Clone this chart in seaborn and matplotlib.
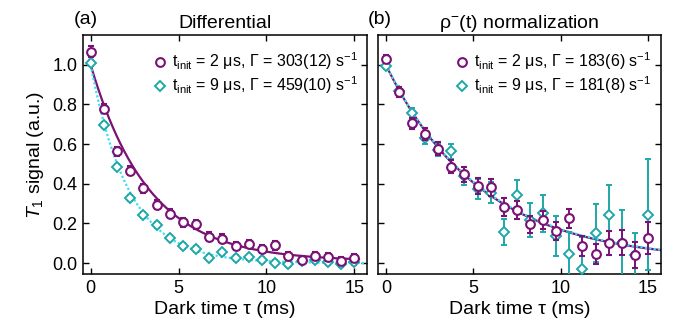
import numpy as np
import pandas as pd
import seaborn as sns
import matplotlib.pyplot as plt
from matplotlib.lines import Line2D

# data
tau = np.arange(21) * 0.75  # dark time (ms)

# (a) differential
a_t2 = [1.067, 0.778, 0.563, 0.467, 0.378, 0.294, 0.250, 0.205, 0.195, 0.134, 0.123,
        0.087, 0.096, 0.071, 0.089, 0.034, 0.017, 0.034, 0.029, 0.013, 0.025]
a_t2_err = [0.028, 0.022, 0.022, 0.022, 0.022, 0.022, 0.022, 0.022, 0.022, 0.022, 0.022,
            0.022, 0.022, 0.022, 0.022, 0.02, 0.02, 0.02, 0.02, 0.02, 0.02]
a_t9 = [1.008, 0.697, 0.487, 0.328, 0.244, 0.193, 0.129, 0.087, 0.072, 0.025, 0.054,
        0.025, 0.029, 0.017, 0.003, -0.005, 0.012, 0.014, 0.005, -0.005, 0.004]
a_t9_err = [0.014] * 21

# (b) rho^-(t) normalization
b_t2 = [1.029, 0.861, 0.706, 0.650, 0.576, 0.487, 0.449, 0.387, 0.383, 0.284, 0.268,
        0.195, 0.217, 0.163, 0.226, 0.086, 0.045, 0.103, 0.103, 0.040, 0.128]
b_t2_err = [0.022, 0.025, 0.028, 0.03, 0.033, 0.035, 0.038, 0.04, 0.042, 0.046, 0.045,
            0.044, 0.046, 0.046, 0.049, 0.049, 0.05, 0.06, 0.063, 0.067, 0.08]
b_t9 = [0.995, 0.870, 0.756, 0.630, 0.570, 0.563, 0.440, 0.373, 0.356, 0.158, 0.344,
        0.217, 0.251, 0.136, 0.045, -0.03, 0.153, 0.243, 0.10, 0.04, 0.243]
b_t9_err = [0.015, 0.02, 0.025, 0.03, 0.03, 0.04, 0.045, 0.05, 0.055, 0.067, 0.076,
            0.084, 0.093, 0.10, 0.113, 0.16, 0.147, 0.152, 0.17, 0.11, 0.28]

# fit parameters: rate (1/s), amplitude, offset
gamma_a = [303, 459]
gamma_b = [183, 181]
fit_amp_a = [0.99, 1.0]
fit_off_a = [0.01, 0.0]
fit_amp_b = [0.99, 0.99]
fit_off_b = [0.01, 0.01]

labels_a = [r'$\mathrm{t_{init}}$ = 2 μs, Γ = 303(12) s$^{\mathrm{-1}}$',
            r'$\mathrm{t_{init}}$ = 9 μs, Γ = 459(10) s$^{\mathrm{-1}}$']
labels_b = [r'$\mathrm{t_{init}}$ = 2 μs, Γ = 183(6) s$^{\mathrm{-1}}$',
            r'$\mathrm{t_{init}}$ = 9 μs, Γ = 181(8) s$^{\mathrm{-1}}$']

purple = '#7a1276'
teal = '#1fa8a8'
cyan_line = '#3ce0f0'

sns.set_style('ticks')
plt.rcParams['font.family'] = ['Liberation Sans', 'DejaVu Sans']
plt.rcParams['mathtext.fontset'] = 'custom'
plt.rcParams['mathtext.rm'] = 'Liberation Sans'
plt.rcParams['mathtext.it'] = 'Liberation Sans:italic'
for k in ['text.color', 'axes.labelcolor', 'xtick.color', 'ytick.color', 'axes.edgecolor']:
    plt.rcParams[k] = 'black'

fig = plt.figure(figsize=(6.78, 3.22), dpi=100)
ax1 = fig.add_axes([0.122, 0.149, 0.420, 0.742])
ax2 = fig.add_axes([0.5575, 0.149, 0.4175, 0.742])

tfit = np.linspace(0, 15.75, 300)


def panel(ax, y2, e2, y9, e9, gam, amp, off, labels, xend2):
    # fit curves
    fit2 = pd.DataFrame({'t': tfit[tfit <= xend2],
                         'y': amp[0] * np.exp(-gam[0] * tfit[tfit <= xend2] / 1000) + off[0]})
    fit9 = pd.DataFrame({'t': tfit, 'y': amp[1] * np.exp(-gam[1] * tfit / 1000) + off[1]})
    sns.lineplot(data=fit2, x='t', y='y', ax=ax, color=purple, lw=1.6, zorder=2)
    sns.lineplot(data=fit9, x='t', y='y', ax=ax, color=cyan_line, lw=1.6,
                 linestyle=(0, (1, 1)), zorder=2.5)
    # data points
    ax.errorbar(tau, y9, yerr=e9, fmt='D', ms=5, mfc='white', mec=teal, mew=1.4,
                ecolor=teal, elinewidth=1.4, capsize=2.5, capthick=1.4, zorder=3)
    ax.errorbar(tau, y2, yerr=e2, fmt='o', ms=6.3, mfc='white', mec=purple, mew=1.5,
                ecolor=purple, elinewidth=1.4, capsize=2.5, capthick=1.4, zorder=4)
    handles = [Line2D([], [], marker='o', ls='none', ms=6.3, mfc='white', mec=purple, mew=1.5),
               Line2D([], [], marker='D', ls='none', ms=5, mfc='white', mec=teal, mew=1.4)]
    ax.legend(handles, labels, loc='upper right', frameon=False, fontsize=11.5,
              handlelength=0.6, handletextpad=0.45, labelspacing=0.15,
              borderaxespad=0.2, bbox_to_anchor=(1.0, 0.975))
    ax.set_xlim(-0.45, 15.75)
    ax.set_ylim(-0.055, 1.15)
    ax.set_xticks([0, 5, 10, 15])
    ax.set_yticks([0.0, 0.2, 0.4, 0.6, 0.8, 1.0])
    ax.tick_params(direction='in', top=True, right=True, length=4, width=1,
                   labelsize=13, pad=4)
    for s in ax.spines.values():
        s.set_linewidth(1.1)
    ax.set_xlabel('Dark time τ (ms)', fontsize=14, labelpad=3)


panel(ax1, a_t2, a_t2_err, a_t9, a_t9_err, gamma_a, fit_amp_a, fit_off_a, labels_a, 15.3)
panel(ax2, b_t2, b_t2_err, b_t9, b_t9_err, gamma_b, fit_amp_b, fit_off_b, labels_b, 15.75)

ax1.set_yticklabels(['0.0', '0.2', '0.4', '0.6', '0.8', '1.0'])
ax1.set_ylabel(r'$T_1$ signal (a.u.)', fontsize=14, labelpad=4)
ax2.set_ylabel('')
ax2.tick_params(labelleft=False)

ax1.set_title('Differential', fontsize=14, pad=5)
ax2.set_title('ρ$^{\\mathrm{-}}$(t) normalization', fontsize=14, pad=5)
fig.text(74 / 678, 1 - 19 / 322, '(a)', fontsize=14, va='center', ha='left')
fig.text(368 / 678, 1 - 19 / 322, '(b)', fontsize=14, va='center', ha='left')

fig.savefig('out.png', dpi=100)
